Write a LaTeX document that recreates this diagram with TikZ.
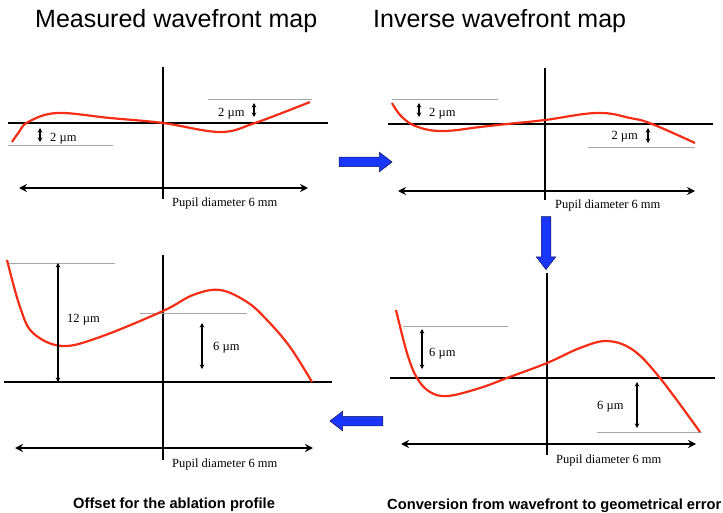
\documentclass[tikz,border=0pt]{standalone}
\usepackage{fontspec}
\setmainfont{Liberation Serif}
\newfontfamily\headfont{Liberation Sans}
\usetikzlibrary{arrows.meta,shapes.arrows}
\definecolor{curvered}{RGB}{245,45,20}
\definecolor{flowblue}{RGB}{25,55,250}
\definecolor{flowedge}{RGB}{20,20,90}

\begin{document}
\begin{tikzpicture}[
  x=1pt, y=-1pt,
  every node/.style={inner sep=0pt},
  axis/.style={draw, line width=1.2pt},
  guide/.style={draw, gray!70, line width=0.7pt},
  wave/.style={draw, curvered, line width=2.2pt},
  gap/.style={draw, line width=1.1pt, {Stealth[length=4.5pt,width=4.5pt]}-{Stealth[length=4.5pt,width=4.5pt]}},
  pupil/.style={draw, line width=2.5pt, {Stealth[length=8pt,width=8pt]}-{Stealth[length=8pt,width=8pt]}},
  lab/.style={anchor=base west, font=\fontsize{12.5}{14}\selectfont},
  title/.style={anchor=base west, font=\headfont\fontsize{25}{30}\selectfont},
  caption/.style={anchor=base west, font=\headfont\bfseries\fontsize{14.7}{17}\selectfont},
  flow/.style={single arrow, draw=flowedge, fill=flowblue, line width=0.5pt,
    minimum height=53pt, inner xsep=0pt, inner ysep=4.5pt,
    single arrow head extend=5pt, single arrow tip angle=75}]

  \useasboundingbox (0,0) rectangle (723,513);

  % measured wavefront map
  \node[title] (mtitle) at (35,28) {Measured wavefront map};
  \draw[axis] (163,67) -- (163,199);
  \draw[axis] (8,123) -- (328,123);
  \draw[guide] (8,145) -- (113,145);
  \draw[guide] (208,99) -- (312,99);
  \draw[wave] plot[smooth, tension=0.6] coordinates {(12,142) (19,132) (28,122) (57,113)
    (110,118) (163,123) (220,132) (255,123) (310,102)};
  \coordinate (mgapA1) at (40,128);  \coordinate (mgapA2) at (40,142);
  \coordinate (mgapB1) at (254,103); \coordinate (mgapB2) at (254,117);
  \draw[gap] (mgapA1) -- (mgapA2);
  \draw[gap] (mgapB1) -- (mgapB2);
  \node[lab] (mlabA) at (50,142) {2 µm};
  \node[lab] (mlabB) at (218,117) {2 µm};
  \coordinate (mpupL) at (19,188); \coordinate (mpupR) at (308,188);
  \draw[pupil] (mpupL) -- (mpupR);
  \node[lab] (mpupil) at (172,207) {Pupil diameter 6 mm};

  % inverse wavefront map
  \node[title] (ititle) at (373,28) {Inverse wavefront map};
  \draw[axis] (545,68) -- (545,200);
  \draw[axis] (388,124) -- (713,124);
  \draw[guide] (392,99) -- (498,99);
  \draw[guide] (588,147) -- (695,147);
  \draw[wave] plot[smooth, tension=0.7] coordinates {(392,103) (402,117) (418,127) (443,131)
    (480,127) (507,124) (545,120) (597,113) (630,118) (652,124) (695,143)};
  \coordinate (igapA1) at (419,103); \coordinate (igapA2) at (419,117);
  \coordinate (igapB1) at (648,128); \coordinate (igapB2) at (648,143);
  \draw[gap] (igapA1) -- (igapA2);
  \draw[gap] (igapB1) -- (igapB2);
  \node[lab] (ilabA) at (429,117) {2 µm};
  \node[lab, anchor=base east] (ilabB) at (638,140) {2 µm};
  \coordinate (ipupL) at (398,191); \coordinate (ipupR) at (695,191);
  \draw[pupil] (ipupL) -- (ipupR);
  \node[lab] (ipupil) at (555,209) {Pupil diameter 6 mm};

  % offset for the ablation profile
  \draw[axis] (163,255) -- (163,460);
  \draw[axis] (4,382) -- (332,382);
  \draw[guide] (8,263) -- (115,263);
  \draw[guide] (140,313) -- (247,313);
  \draw[wave] plot[smooth, tension=0.6] coordinates {(7,260) (20,307) (33,333) (62,346)
    (100,337) (163,311) (193,295) (220,290) (247,302) (267,320) (290,347) (312,382)};
  \coordinate (ogapA1) at (58,263);  \coordinate (ogapA2) at (58,382);
  \coordinate (ogapB1) at (202,323); \coordinate (ogapB2) at (202,369);
  \draw[gap] (ogapA1) -- (ogapA2);
  \draw[gap] (ogapB1) -- (ogapB2);
  \node[lab] (olabA) at (67,322) {12 µm};
  \node[lab] (olabB) at (213,350) {6 µm};
  \coordinate (opupL) at (15,448); \coordinate (opupR) at (313,448);
  \draw[pupil] (opupL) -- (opupR);
  \node[lab] (opupil) at (172,467) {Pupil diameter 6 mm};
  \node[caption] (ocap) at (73,508) {Offset for the ablation profile};

  % conversion to geometrical error
  \draw[axis] (547,273) -- (547,455);
  \draw[axis] (390,378) -- (715,378);
  \draw[guide] (403,326) -- (508,326);
  \draw[guide] (597,432) -- (702,432);
  \draw[wave] plot[smooth, tension=0.6] coordinates {(396,310) (407,353) (417,378) (430,392)
    (448,396) (480,388) (507,378) (547,363) (580,348) (607,341) (633,350) (660,378) (700,432)};
  \coordinate (cgapA1) at (422,329); \coordinate (cgapA2) at (422,369);
  \coordinate (cgapB1) at (637,382); \coordinate (cgapB2) at (637,428);
  \draw[gap] (cgapA1) -- (cgapA2);
  \draw[gap] (cgapB1) -- (cgapB2);
  \node[lab] (clabA) at (429,356) {6 µm};
  \node[lab] (clabB) at (597,409) {6 µm};
  \coordinate (cpupL) at (401,444); \coordinate (cpupR) at (696,444);
  \draw[pupil] (cpupL) -- (cpupR);
  \node[lab] (cpupil) at (556,463) {Pupil diameter 6 mm};
  \node[caption] (ccap) at (387,509) {Conversion from wavefront to geometrical error};

  % flow between the maps
  \node[flow] (toinverse) at (362.5,162) {};
  \node[flow, rotate=-90] (toconversion) at (546,240) {};
  \node[flow, rotate=180] (tooffset) at (359.5,421) {};

\end{tikzpicture}
\end{document}
